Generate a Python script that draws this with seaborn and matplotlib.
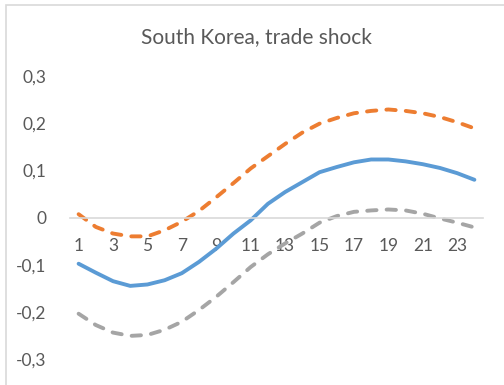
import matplotlib
matplotlib.use("Agg")
import matplotlib.pyplot as plt
from matplotlib.patches import Rectangle
from matplotlib.ticker import FuncFormatter, FixedLocator
import seaborn as sns
import pandas as pd

periods = list(range(1, 25))
mean_resp = [-0.098, -0.117, -0.135, -0.145, -0.142, -0.133, -0.118, -0.094,
             -0.066, -0.034, -0.006, 0.029, 0.054, 0.075, 0.096, 0.107,
             0.117, 0.123, 0.123, 0.119, 0.113, 0.105, 0.094, 0.080]
upper_band = [0.007, -0.020, -0.034, -0.040, -0.040, -0.027, -0.009, 0.014,
              0.043, 0.073, 0.104, 0.130, 0.156, 0.180, 0.199, 0.211,
              0.221, 0.226, 0.229, 0.226, 0.221, 0.213, 0.202, 0.189]
lower_band = [-0.204, -0.228, -0.244, -0.251, -0.249, -0.238, -0.221, -0.196,
              -0.168, -0.137, -0.105, -0.078, -0.055, -0.034, -0.011, 0.003,
              0.012, 0.015, 0.017, 0.015, 0.008, -0.002, -0.011, -0.021]
y_ticks = [-0.3, -0.2, -0.1, 0.0, 0.1, 0.2, 0.3]
x_tick_labels = [str(p) for p in periods if p % 2 == 1]
title = "South Korea, trade shock"

df = pd.DataFrame({"period": periods, "mean": mean_resp,
                   "upper": upper_band, "lower": lower_band})

sns.set_theme(style="white")
plt.rcParams["font.family"] = ["Lato", "DejaVu Sans"]

fig = plt.figure(figsize=(5.04, 3.85), dpi=100)
fig.patch.set_facecolor("white")
fig.patches.append(Rectangle((6 / 504, -0.1), 1.2, 1 - 5 / 385 + 0.1,
                             transform=fig.transFigure, fill=False,
                             edgecolor="#D9D9D9", linewidth=1.2))

ax = fig.add_axes([70 / 504, 1 - 359 / 385, 413 / 504, 283 / 385])

txt = "#595959"
lw = 2.8
sns.lineplot(data=df, x="period", y="mean", ax=ax, color="#5B9BD5",
             linewidth=lw, solid_capstyle="round")
sns.lineplot(data=df, x="period", y="upper", ax=ax, color="#ED7D31",
             linewidth=lw, linestyle=(0, (2.4, 2.6)), dash_capstyle="round")
sns.lineplot(data=df, x="period", y="lower", ax=ax, color="#A5A5A5",
             linewidth=lw, linestyle=(0, (2.4, 2.6)), dash_capstyle="round")

ax.set_xlim(0.5, 24.5)
ax.set_ylim(-0.3, 0.3)
ax.set_xlabel("")
ax.set_ylabel("")

ax.xaxis.set_major_locator(FixedLocator([p for p in periods if p % 2 == 1]))
ax.set_xticklabels(x_tick_labels)
ax.yaxis.set_major_locator(FixedLocator(y_ticks))

def fmt(v, pos):
    if abs(v) < 1e-9:
        return "0"
    s = f"{v:.1f}".replace(".", ",")
    return s.replace("\u2212", "-")

ax.yaxis.set_major_formatter(FuncFormatter(fmt))

for side in ["top", "right", "left"]:
    ax.spines[side].set_visible(False)
ax.spines["bottom"].set_position(("data", 0))
ax.spines["bottom"].set_color("#D9D9D9")
ax.spines["bottom"].set_linewidth(1.2)
ax.set_zorder(1)
ax.patch.set_visible(False)

ax.tick_params(axis="x", length=0, pad=15, labelsize=12.5, labelcolor=txt)
ax.tick_params(axis="y", length=0, pad=17, labelsize=12.5, labelcolor=txt)
ax.grid(False)

fig.text(256 / 504, 1 - 37 / 385, title, ha="center", va="center",
         fontsize=15, color=txt)

fig.savefig("out.png", dpi=100, facecolor="white")
